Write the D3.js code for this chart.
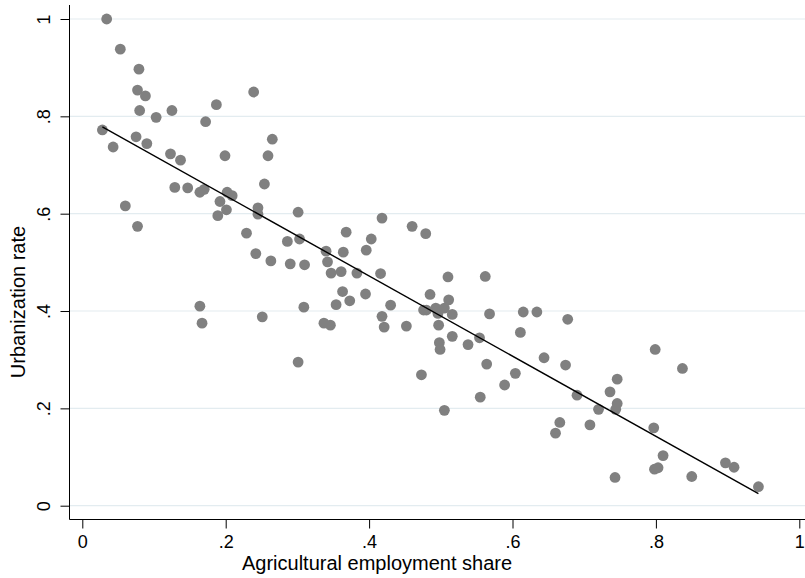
<!DOCTYPE html>
<html>
<head>
<meta charset="utf-8">
<script src="https://cdn.jsdelivr.net/npm/d3@7"></script>
<style>
  html, body { margin: 0; padding: 0; background: #ffffff; }
  svg { display: block; }
  text { font-family: "Liberation Sans", Arial, sans-serif; fill: #000; }
</style>
</head>
<body>
<svg id="chart" width="805" height="578"></svg>
<script>
// Agricultural employment share (x) vs urbanization rate (y)
const agriShare = [
  0.034, 0.053, 0.079, 0.077, 0.088, 0.080, 0.103, 0.125, 0.172, 0.187,
  0.239, 0.028, 0.043, 0.075, 0.090, 0.123, 0.137, 0.199, 0.265, 0.259,
  0.254, 0.129, 0.147, 0.164, 0.170, 0.202, 0.209, 0.192, 0.245, 0.245,
  0.201, 0.189, 0.060, 0.077, 0.229, 0.301, 0.286, 0.303, 0.242, 0.263,
  0.290, 0.310, 0.164, 0.167, 0.251, 0.309, 0.301, 0.418, 0.368, 0.403,
  0.340, 0.364, 0.396, 0.342, 0.347, 0.361, 0.383, 0.416, 0.363, 0.373,
  0.354, 0.395, 0.430, 0.418, 0.421, 0.452, 0.337, 0.346, 0.460, 0.479,
  0.510, 0.562, 0.485, 0.511, 0.476, 0.480, 0.493, 0.496, 0.505, 0.516,
  0.568, 0.615, 0.497, 0.498, 0.499, 0.516, 0.538, 0.554, 0.611, 0.564,
  0.604, 0.589, 0.473, 0.555, 0.505, 0.634, 0.677, 0.644, 0.674, 0.799,
  0.837, 0.690, 0.720, 0.736, 0.746, 0.746, 0.744, 0.666, 0.660, 0.708,
  0.797, 0.810, 0.798, 0.803, 0.743, 0.850, 0.897, 0.909, 0.943
];
const urbanRate = [
  1.000, 0.938, 0.897, 0.854, 0.842, 0.812, 0.798, 0.812, 0.789, 0.824,
  0.850, 0.772, 0.737, 0.758, 0.744, 0.723, 0.710, 0.719, 0.753, 0.719,
  0.661, 0.654, 0.653, 0.644, 0.650, 0.644, 0.637, 0.625, 0.612, 0.599,
  0.608, 0.596, 0.616, 0.574, 0.560, 0.603, 0.543, 0.548, 0.518, 0.503,
  0.497, 0.495, 0.410, 0.375, 0.388, 0.408, 0.295, 0.591, 0.562, 0.548,
  0.523, 0.521, 0.525, 0.501, 0.478, 0.481, 0.478, 0.477, 0.440, 0.421,
  0.413, 0.435, 0.412, 0.389, 0.367, 0.369, 0.375, 0.371, 0.574, 0.559,
  0.470, 0.471, 0.434, 0.423, 0.402, 0.402, 0.406, 0.395, 0.406, 0.393,
  0.394, 0.398, 0.371, 0.335, 0.321, 0.348, 0.331, 0.345, 0.356, 0.291,
  0.272, 0.248, 0.269, 0.223, 0.196, 0.398, 0.383, 0.304, 0.289, 0.321,
  0.282, 0.227, 0.198, 0.234, 0.260, 0.210, 0.198, 0.171, 0.149, 0.166,
  0.160, 0.103, 0.075, 0.078, 0.058, 0.060, 0.088, 0.079, 0.039
];
const xTicks = [0, 0.2, 0.4, 0.6, 0.8, 1];
const yTicks = [0, 0.2, 0.4, 0.6, 0.8, 1];
const xTitle = "Agricultural employment share";
const yTitle = "Urbanization rate";

const points = agriShare.map((x, i) => ({ x, y: urbanRate[i] }));

const svg = d3.select("#chart");
const W = 805;

// Scales
const x = d3.scaleLinear().domain([0, 1]).range([82.3, 799.3]);
const y = d3.scaleLinear().domain([0, 1]).range([505.7, 19]);

const axisX = 69.5;   // vertical axis position
const axisY = 519.5;  // horizontal axis position

const fmt = d => d === 0 ? "0" : d === 1 ? "1" : d3.format(".1f")(d).replace(/^0/, "");

// Horizontal grid lines
svg.append("g")
  .selectAll("line")
  .data(yTicks)
  .join("line")
  .attr("x1", axisX)
  .attr("x2", W)
  .attr("y1", d => y(d))
  .attr("y2", d => y(d))
  .attr("stroke", "#e3ecf0")
  .attr("stroke-width", 1.2);

// Fitted line (least squares over the observed x range)
const n = points.length;
const mx = d3.mean(agriShare), my = d3.mean(urbanRate);
const sxy = d3.sum(points, p => (p.x - mx) * (p.y - my));
const sxx = d3.sum(points, p => (p.x - mx) ** 2);
const slope = sxy / sxx;
const intercept = my - slope * mx;
const [xmin, xmax] = d3.extent(agriShare);

// Scatter markers
svg.append("g")
  .selectAll("circle")
  .data(points)
  .join("circle")
  .attr("cx", d => x(d.x))
  .attr("cy", d => y(d.y))
  .attr("r", 5.4)
  .attr("fill", "#808080");

svg.append("line")
  .attr("x1", x(xmin)).attr("y1", y(intercept + slope * xmin))
  .attr("x2", x(xmax)).attr("y2", y(intercept + slope * xmax))
  .attr("stroke", "#000")
  .attr("stroke-width", 1.4);

// Y axis
const yAxis = svg.append("g").attr("transform", `translate(${axisX},0)`)
  .call(d3.axisLeft(y).tickValues(yTicks).tickFormat(fmt).tickSize(9).tickPadding(0));
yAxis.select(".domain").remove();
yAxis.selectAll(".tick line").attr("stroke", "#000").attr("stroke-width", 1);
yAxis.selectAll(".tick text")
  .attr("x", null).attr("dy", null)
  .attr("transform", "translate(-19.5,0) rotate(-90)")
  .attr("text-anchor", "middle")
  .style("font-size", "18px")
  .style("font-family", '"Liberation Sans", Arial, sans-serif')
  .attr("fill", "#000");
svg.append("line")
  .attr("x1", axisX).attr("x2", axisX)
  .attr("y1", 5).attr("y2", axisY)
  .attr("stroke", "#000").attr("stroke-width", 1);

// X axis
const xAxis = svg.append("g").attr("transform", `translate(0,${axisY})`)
  .call(d3.axisBottom(x).tickValues(xTicks).tickFormat(fmt).tickSize(9).tickPadding(0));
xAxis.select(".domain").remove();
xAxis.selectAll(".tick line").attr("stroke", "#000").attr("stroke-width", 1);
xAxis.selectAll(".tick text")
  .attr("y", 28).attr("dy", null)
  .attr("text-anchor", "middle")
  .style("font-size", "18px")
  .style("font-family", '"Liberation Sans", Arial, sans-serif')
  .attr("fill", "#000");
svg.append("line")
  .attr("x1", axisX).attr("x2", W)
  .attr("y1", axisY).attr("y2", axisY)
  .attr("stroke", "#000").attr("stroke-width", 1);

// Axis titles
svg.append("text")
  .attr("x", 377).attr("y", 570)
  .attr("text-anchor", "middle")
  .style("font-size", "20px")
  .text(xTitle);

svg.append("text")
  .attr("transform", "translate(25,302) rotate(-90)")
  .attr("text-anchor", "middle")
  .style("font-size", "20px")
  .text(yTitle);
</script>
</body>
</html>
